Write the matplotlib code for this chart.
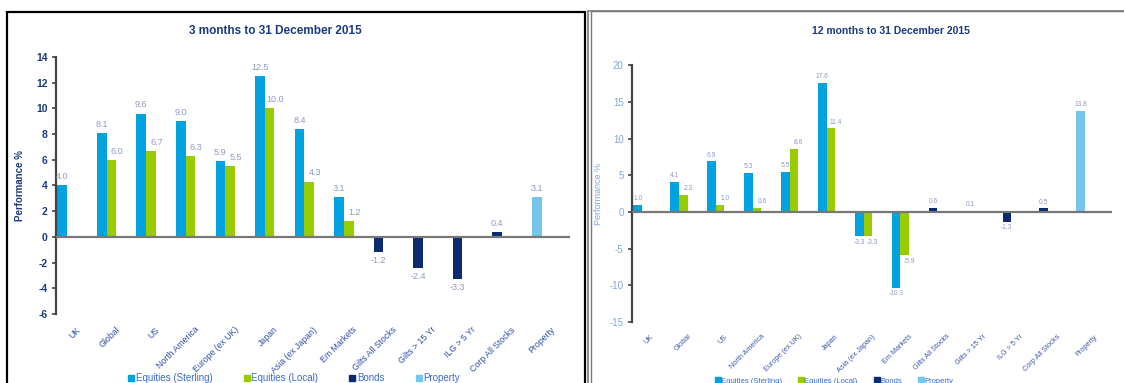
import numpy as np
import matplotlib
matplotlib.use("Agg")
import matplotlib.pyplot as plt
from matplotlib.patches import Rectangle
from matplotlib.lines import Line2D

plt.rcParams['font.family'] = ['Liberation Sans', 'DejaVu Sans']

categories = ["UK", "Global", "US", "North America", "Europe (ex UK)", "Japan",
              "Asia (ex Japan)", "Em Markets", "Gilts All Stocks", "Gilts > 15 Yr",
              "ILG > 5 Yr", "Corp All Stocks", "Property"]
series_names = ["Equities (Sterling)", "Equities (Local)", "Bonds", "Property"]
N = None

# 3 months to 31 December 2015
sterling_3m = [4.0, 8.1, 9.6, 9.0, 5.9, 12.5, 8.4, 3.1, N, N, N, N, N]
local_3m    = [N, 6.0, 6.7, 6.3, 5.5, 10.0, 4.3, 1.2, N, N, N, N, N]
bonds_3m    = [N, N, N, N, N, N, N, N, -1.2, -2.4, -3.3, 0.4, N]
property_3m = [N, N, N, N, N, N, N, N, N, N, N, N, 3.1]

# 12 months to 31 December 2015
sterling_12m = [1.0, 4.1, 6.9, 5.3, 5.5, 17.6, -3.3, -10.3, N, N, N, N, N]
local_12m    = [N, 2.3, 1.0, 0.6, 8.6, 11.4, -3.3, -5.9, N, N, N, N, N]
bonds_12m    = [N, N, N, N, N, N, N, N, 0.6, 0.1, -1.3, 0.5, N]
property_12m = [N, N, N, N, N, N, N, N, N, N, N, N, 13.8]

colors = ["#00a3e0", "#99cc00", "#0b2a6f", "#72c7ea"]

W, H = 1124, 383
fig = plt.figure(figsize=(W / 100, H / 100), dpi=100)

# panel borders
fig.patches.append(Rectangle((7 / W, -0.05), (585 - 7) / W, (H - 12) / H + 0.05,
                             transform=fig.transFigure, fill=False, ec="black", lw=1.6))
fig.patches.append(Rectangle((587.5 / W, -0.05), 0.5, (H - 11) / H + 0.05,
                             transform=fig.transFigure, fill=False, ec="#7a7a7a", lw=1.2))
fig.patches.append(Rectangle((590.5 / W, -0.05), 0.5, (H - 11) / H + 0.05,
                             transform=fig.transFigure, fill=False, ec="#7a7a7a", lw=1.0))


def draw(ax, st, lo, bo, pr, ylim, yticks, tick_style, vfs, xfs, lab_col, bw, gap, shift):
    n = len(categories)
    for i in range(n):
        first = None
        fcol = None
        for vals, c in ((st, colors[0]), (bo, colors[2]), (pr, colors[3])):
            if vals[i] is not None:
                first, fcol = vals[i], c
        slots = []
        if first is not None:
            slots.append((first, fcol, i + 0.035, 0))
        if lo[i] is not None:
            slots.append((lo[i], colors[1], i + 0.035 + bw, shift))
        for v, c, x0, dx in slots:
            ax.bar(x0, v, width=bw, align="edge", color=c, edgecolor="none", zorder=2)
            if v >= 0:
                ax.annotate(f"{v:.1f}", (x0 + bw / 2, v), xytext=(dx, gap), textcoords="offset points",
                            ha="center", va="bottom", fontsize=vfs, color="#8d9bc4")
            else:
                ax.annotate(f"{v:.1f}", (x0 + bw / 2, v), xytext=(dx, -gap), textcoords="offset points",
                            ha="center", va="top", fontsize=vfs, color="#8d9bc4")
    ax.set_xlim(0, n)
    ax.set_ylim(*ylim)
    ax.set_yticks(yticks)
    ax.set_yticklabels([str(t) for t in yticks], **tick_style)
    ax.axhline(0, color="#777777", lw=1.6, zorder=3)
    for s in ("top", "right", "bottom"):
        ax.spines[s].set_visible(False)
    ax.spines["left"].set_color("#444444")
    ax.spines["left"].set_linewidth(1.6)
    ax.tick_params(axis="y", length=3, width=1.2, color="#444444", pad=3)
    ax.set_xticks(np.arange(n) + 0.5)
    ax.set_xticklabels(categories, rotation=45, ha="right", va="top", rotation_mode="anchor",
                       fontsize=xfs, color=lab_col)
    ax.tick_params(axis="x", length=0, pad=8)


# left chart
axL = fig.add_axes([56 / W, (H - 314) / H, 514 / W, 257 / H])
draw(axL, sterling_3m, local_3m, bonds_3m, property_3m, (-6, 14), list(range(-6, 15, 2)),
     dict(fontsize=7.5, fontweight="bold", color="#1b3a7e"), 6.5, 6.3, "#2e50a8", 0.245, 3, 4)
axL.set_ylabel("Performance %", fontsize=7, fontweight="bold", color="#1b3a7e", labelpad=8)
fig.text(275 / W, 1 - 31 / H, "3 months to 31 December 2015", ha="center", va="center",
         fontsize=8.5, fontweight="bold", color="#1b3a7e")

# right chart
axR = fig.add_axes([632 / W, (H - 322) / H, 480 / W, 256.7 / H])
draw(axR, sterling_12m, local_12m, bonds_12m, property_12m, (-15, 20), list(range(-15, 21, 5)),
     dict(fontsize=7, color="#7fa8dc"), 4.8, 5.2, "#3a5aa8", 0.235, 2, 3.5)
axR.set_ylabel("Performance %", fontsize=6.5, color="#7fa8dc", labelpad=5)
fig.text(891 / W, 1 - 31 / H, "12 months to 31 December 2015", ha="center", va="center",
         fontsize=7.5, fontweight="bold", color="#1b3a7e")

handles = [Line2D([], [], marker="s", ls="none", color=c, markersize=4) for c in colors]
fig.legend(handles, series_names, loc="center left", bbox_to_anchor=(128 / W, 5 / H),
           ncol=4, frameon=False, fontsize=7, handlelength=0.6, handletextpad=0.2,
           columnspacing=3.2, labelcolor="#3a6ad0", borderaxespad=0, borderpad=0)
fig.legend(handles, series_names, loc="center left", bbox_to_anchor=(716 / W, 2 / H),
           ncol=4, frameon=False, fontsize=5.5, handlelength=0.6, handletextpad=0.1,
           columnspacing=2.2, labelcolor="#3a6ad0", borderaxespad=0, borderpad=0)

fig.savefig("out.png", dpi=100)
